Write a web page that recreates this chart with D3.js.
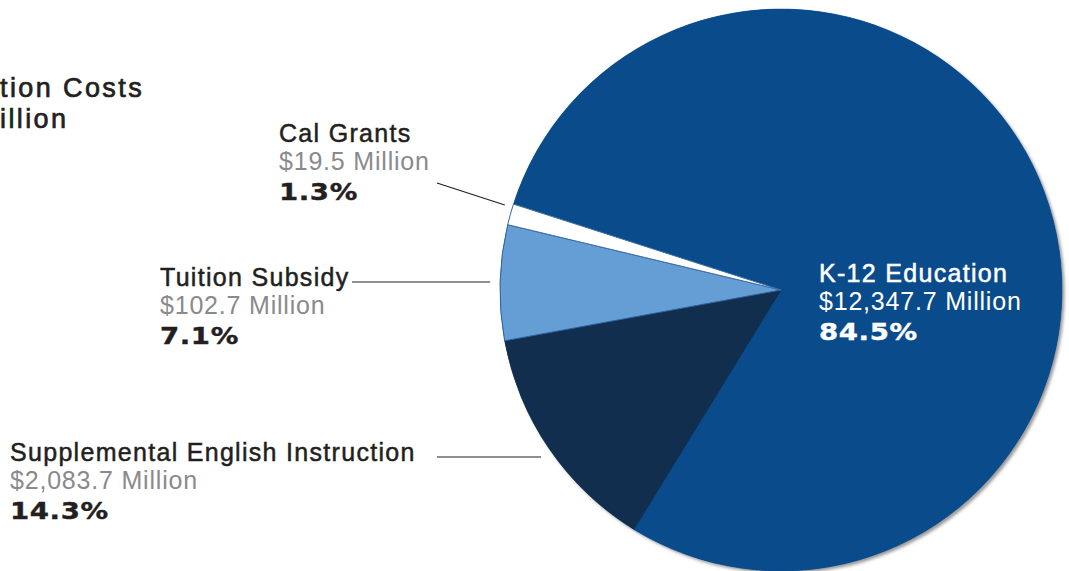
<!DOCTYPE html>
<html>
<head>
<meta charset="utf-8">
<script src="https://cdn.jsdelivr.net/npm/d3@7"></script>
<style>
  html, body { margin: 0; padding: 0; background: #fff; }
  svg { display: block; }
</style>
</head>
<body>
<svg id="chart" width="1069" height="571"></svg>
<script>
// ---- data ----
const categories = ["K-12 Education", "Supplemental English Instruction", "Tuition Subsidy", "Cal Grants"];
const amounts = ["$12,347.7 Million", "$2,083.7 Million", "$102.7 Million", "$19.5 Million"];
const percents = [84.5, 14.3, 7.1, 1.3];
// title is cropped at the left edge of the reference; only the visible part is shown
const titleLines = ["tion Costs", "illion"];

// ---- styles / layout ----
const colors = ["#0a4b8c", "#122e4e", "#659ed4", "#ffffff"];
const strokes = ["#0a4b8c", "#122e4e", "#2f62a0", "#3a6ea5"];
const cx = 781, cy = 290, R = 281;
const startDeg = -72.2;

const svg = d3.select("#chart");
const defs = svg.append("defs");
const f = defs.append("filter").attr("id", "shadow").attr("x", "-10%").attr("y", "-10%").attr("width", "130%").attr("height", "130%");
f.append("feDropShadow").attr("dx", 2.5).attr("dy", 2.5).attr("stdDeviation", 1.5).attr("flood-color", "#000").attr("flood-opacity", 0.4);

const data = categories.map((c, i) => ({ name: c, amount: amounts[i], pct: percents[i], i }));
const a0 = startDeg * Math.PI / 180;
const pie = d3.pie().sort(null).value(d => d.pct).startAngle(a0).endAngle(a0 + 2 * Math.PI);
const arc = d3.arc().innerRadius(0).outerRadius(R);
const arcs = pie(data);

const g = svg.append("g").attr("transform", `translate(${cx},${cy})`);
g.append("circle").attr("r", R).attr("fill", colors[0]).attr("filter", "url(#shadow)");
g.selectAll("path.slice").data(arcs).join("path")
  .attr("class", "slice")
  .attr("d", arc)
  .attr("fill", d => colors[d.data.i])
  .attr("stroke", d => strokes[d.data.i])
  .attr("stroke-width", d => d.data.i >= 2 ? 1 : 0.5)
  .attr("stroke-linejoin", "round");

// ---- title (one text block, two lines) ----
const sans = "'Liberation Sans', Arial, Helvetica, sans-serif";
const title = svg.append("text").attr("x", 0).attr("y", 97)
  .attr("font-family", sans).attr("font-size", 27).attr("letter-spacing", 2.4)
  .attr("fill", "#231f20").attr("stroke", "#231f20").attr("stroke-width", 0.7);
title.selectAll("tspan").data(titleLines).join("tspan")
  .attr("x", 0).attr("dy", (d, i) => i === 0 ? 0 : 30.5)
  .text(d => d);

// ---- labels ----
const labelPos = [
  { x: 819, y: 282, color: "#ffffff", sub: "#ffffff" },
  { x: 10, y: 461, color: "#231f20", sub: "#8a8a8c" },
  { x: 160, y: 286, color: "#231f20", sub: "#8a8a8c" },
  { x: 279, y: 142, color: "#231f20", sub: "#8a8a8c" }
];
const lab = svg.append("g");
data.forEach((d, i) => {
  const p = labelPos[i];
  const t = lab.append("g");
  t.append("text").attr("x", p.x).attr("y", p.y)
    .attr("font-family", sans).attr("font-size", 25).attr("letter-spacing", 1.3)
    .attr("fill", p.color).attr("stroke", p.color).attr("stroke-width", 0.5)
    .text(d.name);
  t.append("text").attr("x", p.x).attr("y", p.y + 28)
    .attr("font-family", sans).attr("font-size", 25).attr("letter-spacing", 0.8)
    .attr("fill", p.sub)
    .text(d.amount);
  t.append("text")
    .attr("transform", `translate(${p.x},${p.y + 58}) scale(1.2,1)`)
    .attr("font-family", "'DejaVu Sans', sans-serif").attr("font-weight", "bold")
    .attr("font-size", 23).attr("letter-spacing", 0.5)
    .attr("fill", p.color).attr("stroke", p.color).attr("stroke-width", 0.4)
    .text(d3.format(".1f")(d.pct) + "%");
});

// ---- leader lines ----
function polar(a, r) { return [cx + r * Math.sin(a), cy - r * Math.cos(a)]; }
const cal = arcs.find(a => a.data.i === 3);
const calEnd = polar(cal.endAngle - 0.012, R + 8);
svg.append("line").attr("x1", 437).attr("y1", 183).attr("x2", calEnd[0]).attr("y2", calEnd[1])
  .attr("stroke", "#231f20").attr("stroke-width", 1.2);

function edgeX(y) { return cx - Math.sqrt(R * R - (y - cy) * (y - cy)); }
[{ y: 282, x1: 352, gap: 10 }, { y: 457, x1: 437, gap: 14 }].forEach(l => {
  svg.append("line").attr("x1", l.x1).attr("y1", l.y).attr("x2", edgeX(l.y) - l.gap).attr("y2", l.y)
    .attr("stroke", "#231f20").attr("stroke-width", 1.2);
});
</script>
</body>
</html>
